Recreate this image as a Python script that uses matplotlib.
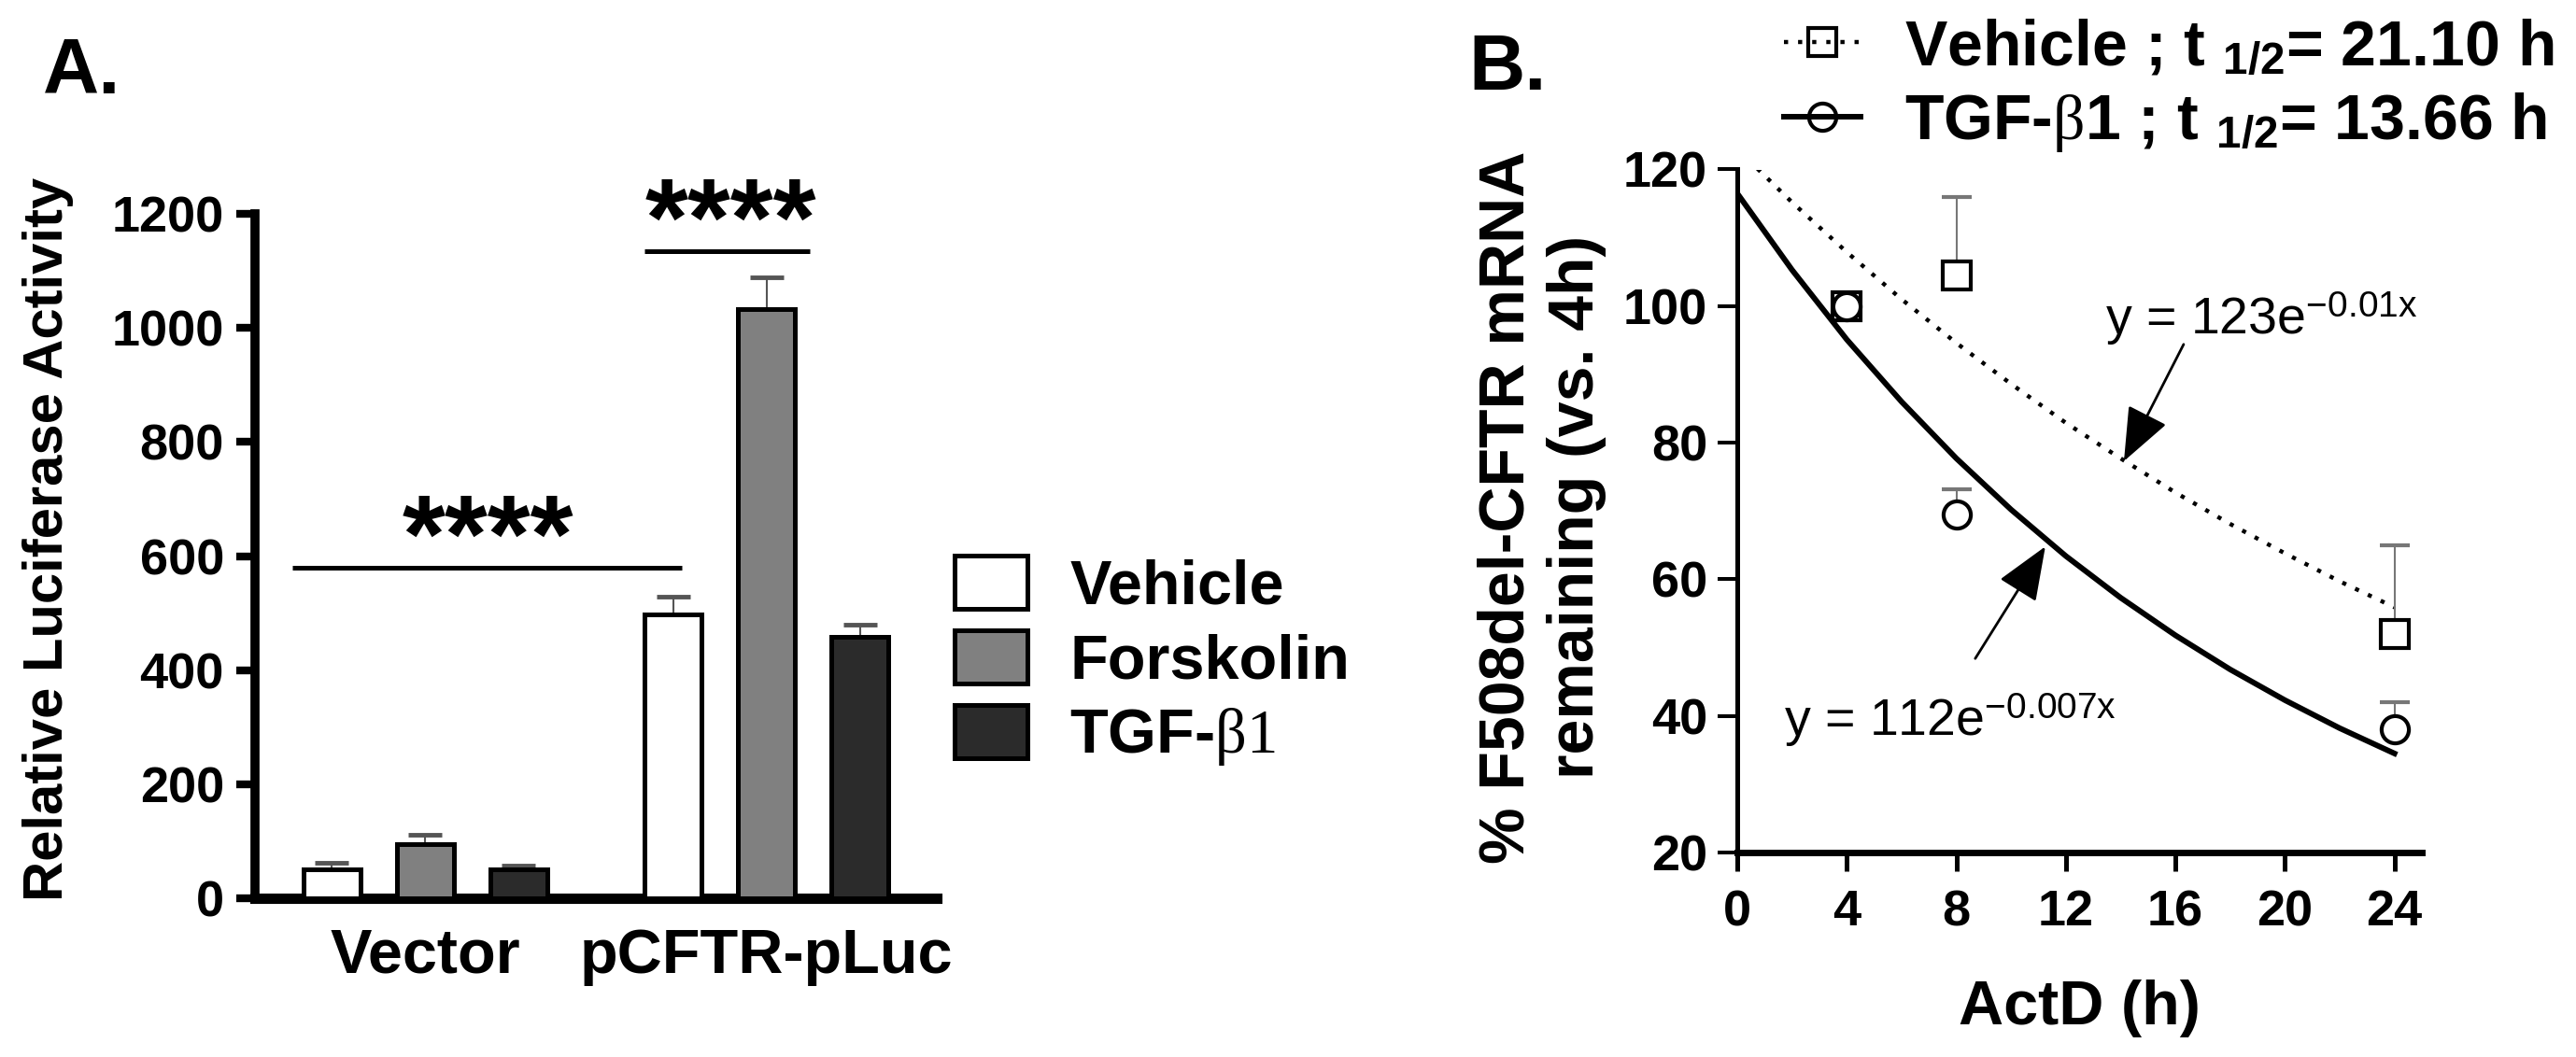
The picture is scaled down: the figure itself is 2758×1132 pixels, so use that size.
import numpy as np
import matplotlib
matplotlib.use("Agg")
import matplotlib.pyplot as plt
from matplotlib.lines import Line2D

plt.rcParams['font.family'] = 'Liberation Sans'
plt.rcParams['font.weight'] = 'bold'
plt.rcParams['axes.labelweight'] = 'bold'
plt.rcParams['mathtext.fontset'] = 'custom'
plt.rcParams['mathtext.rm'] = 'Liberation Serif:weight=normal'
plt.rcParams['mathtext.it'] = 'Liberation Serif:italic:weight=normal'
plt.rcParams['mathtext.bf'] = 'Liberation Sans:bold'

# --- panel A: luciferase reporter ---
groups = ["Vector", "pCFTR-pLuc"]
treatments = ["Vehicle", "Forskolin", r"TGF-$\mathrm{\beta1}$"]
luc_vehicle = [50, 498]
luc_forskolin = [95, 1033]
luc_tgf = [50, 459]
err_vehicle = [13, 31]
err_forskolin = [16, 55]
err_tgf = [8, 21]
bar_colors = ["white", "#808080", "#2b2b2b"]

# --- panel B: mRNA decay after ActD ---
time_h = [4, 8, 24]
veh_pct = [100, 104.5, 52]
veh_sem = [0, 11.5, 13]
tgf_pct = [100, 69.5, 38]
tgf_sem = [0, 3.7, 4]
# fitted decay curves, every 2 h
fit_t = [0, 2, 4, 6, 8, 10, 12, 14, 16, 18, 20, 22, 24]
fit_vehicle = [123.0, 115.2, 107.9, 101.0, 94.6, 88.6, 82.9, 77.7, 72.7, 68.1, 63.8, 59.7, 55.9]
fit_tgf = [116.5, 105.3, 95.1, 86.0, 77.7, 70.2, 63.4, 57.3, 51.8, 46.8, 42.3, 38.2, 34.5]

W, H = 2758, 1132
fig = plt.figure(figsize=(W / 100, H / 100), dpi=100)

# ================= panel A =================
ax_a = fig.add_axes([273 / W, 1 - 962 / H, (1003 - 273) / W, (962 - 229) / H])

group_x = np.array([0, 3.655])
series = [(luc_vehicle, err_vehicle), (luc_forskolin, err_forskolin), (luc_tgf, err_tgf)]
for i, (vals, errs) in enumerate(series):
    xs = group_x + i
    ax_a.bar(xs, vals, width=0.61, color=bar_colors[i], edgecolor="black",
             linewidth=3.6, label=treatments[i], zorder=3)
    ax_a.errorbar(xs, vals, yerr=[np.zeros(len(errs)), errs], fmt="none",
                  ecolor="#555555", elinewidth=1.5, capsize=13, capthick=3.5, zorder=2)

# significance brackets
ax_a.plot([-0.42, 3.75], [580, 580], color="black", lw=3.6, solid_capstyle="butt")
ax_a.text(1.67, 572, "****", ha="center", va="baseline", fontsize=85)
ax_a.plot([3.35, 5.12], [1135, 1135], color="black", lw=3.6, solid_capstyle="butt")
ax_a.text(4.27, 1127, "****", ha="center", va="baseline", fontsize=85, clip_on=False)

ax_a.set_xlim(-0.82, 6.48)
ax_a.set_ylim(0, 1200)
ax_a.set_yticks(range(0, 1201, 200))
ax_a.set_xticks(group_x + 1)
ax_a.set_xticklabels(groups)
for s in ["top", "right"]:
    ax_a.spines[s].set_visible(False)
ax_a.spines["left"].set_linewidth(7)
ax_a.spines["bottom"].set_linewidth(8)
for s in ["left", "bottom"]:
    ax_a.spines[s].set_capstyle("projecting")
ax_a.tick_params(axis="y", length=14.4, width=6, labelsize=39, pad=9.4)
ax_a.tick_params(axis="x", length=0, labelsize=48, pad=23)
ax_a.set_ylabel("Relative Luciferase Activity", fontsize=43)
ax_a.yaxis.set_label_coords(-0.266, 0.524)

ax_a.legend(loc="upper left", bbox_to_anchor=(1022 / W, 1 - 595 / H),
            bbox_transform=fig.transFigure, frameon=False,
            prop={"size": 48, "weight": "bold"}, handlelength=1.17, handleheight=0.93,
            handletextpad=0.68, labelspacing=0.22, borderpad=0, borderaxespad=0)

# ================= panel B =================
ax_b = fig.add_axes([1860 / W, 1 - 913 / H, (2593 - 1860) / W, (913 - 181.5) / H])

dotted = (0, (1, 2.4))
ax_b.plot(fit_t, fit_vehicle, color="black", lw=3.2, linestyle=dotted, zorder=2)
ax_b.plot(fit_t, fit_tgf, color="black", lw=4.3, zorder=2)

t = np.array(time_h)
for ys, es in [(veh_pct, veh_sem), (tgf_pct, tgf_sem)]:
    ys, es = np.array(ys), np.array(es)
    m = es > 0
    ax_b.errorbar(t[m], ys[m], yerr=[np.zeros(m.sum()), es[m]], fmt="none",
                  ecolor="#777777", elinewidth=1.5, capsize=11.5, capthick=3, zorder=3)

ax_b.plot(time_h, veh_pct, linestyle="none", marker="s", ms=21, mew=3,
          mfc="white", mec="black", zorder=4)
ax_b.plot(time_h, tgf_pct, linestyle="none", marker="o", ms=21, mew=3,
          mfc="white", mec="black", zorder=5)

ax_b.text(13.43, 95.9, r"y = 123e$^{\mathregular{-0.01x}}$", fontsize=40,
          fontweight="normal", va="baseline")
ax_b.text(1.70, 37.1, r"y = 112e$^{\mathregular{-0.007x}}$", fontsize=40,
          fontweight="normal", va="baseline")
arrow = dict(arrowstyle="-|>,head_length=3.6,head_width=1.45", lw=2, color="black",
             shrinkA=0, shrinkB=0, mutation_scale=10)
ax_b.annotate("", xy=(14.12, 77.3), xytext=(16.3, 94.4), arrowprops=arrow)
ax_b.annotate("", xy=(11.25, 64.8), xytext=(8.69, 48.4), arrowprops=arrow)

ax_b.set_xlim(0, 25)
ax_b.set_ylim(20, 120)
ax_b.set_xticks(range(0, 25, 4))
ax_b.set_yticks(range(20, 121, 20))
for s in ["top", "right"]:
    ax_b.spines[s].set_visible(False)
ax_b.spines["left"].set_linewidth(3.6)
ax_b.spines["bottom"].set_linewidth(5)
for s in ["left", "bottom"]:
    ax_b.spines[s].set_capstyle("projecting")
ax_b.tick_params(axis="y", length=15, width=2.9, labelsize=39, pad=8)
ax_b.tick_params(axis="x", length=14.4, width=3.6, labelsize=39, pad=13.7)
ax_b.set_xlabel("ActD (h)", fontsize=48)
ax_b.xaxis.set_label_coords(0.5, -0.186)
ax_b.set_ylabel("% F508del-CFTR mRNA\nremaining (vs. 4h)", fontsize=49)
ax_b.yaxis.set_label_coords(-0.191, 0.506)

legend_handles = [
    Line2D([], [], color="black", lw=3.2, linestyle=dotted, marker="s", ms=21, mew=3,
           mfc="none", mec="black"),
    Line2D([], [], color="black", lw=4.3, marker="o", ms=21, mew=3,
           mfc="none", mec="black"),
]
legend_labels = [r"Vehicle ; t $_{\mathregular{1/2}}$= 21.10 h",
                 r"TGF-$\mathrm{\beta}$1 ; t $_{\mathregular{1/2}}$= 13.66 h"]
ax_b.legend(legend_handles, legend_labels, loc="upper left",
            bbox_to_anchor=(1910 / W, 1 - 19 / H), bbox_transform=fig.transFigure,
            frameon=False, prop={"size": 49, "weight": "bold"}, handlelength=1.2,
            handletextpad=0.7, labelspacing=0.2, borderpad=0, borderaxespad=0)

fig.text(46 / W, 1 - 100 / H, "A.", fontsize=60, va="baseline")
fig.text(1572 / W, 1 - 96 / H, "B.", fontsize=60, va="baseline")

fig.savefig("out.png", dpi=100)
